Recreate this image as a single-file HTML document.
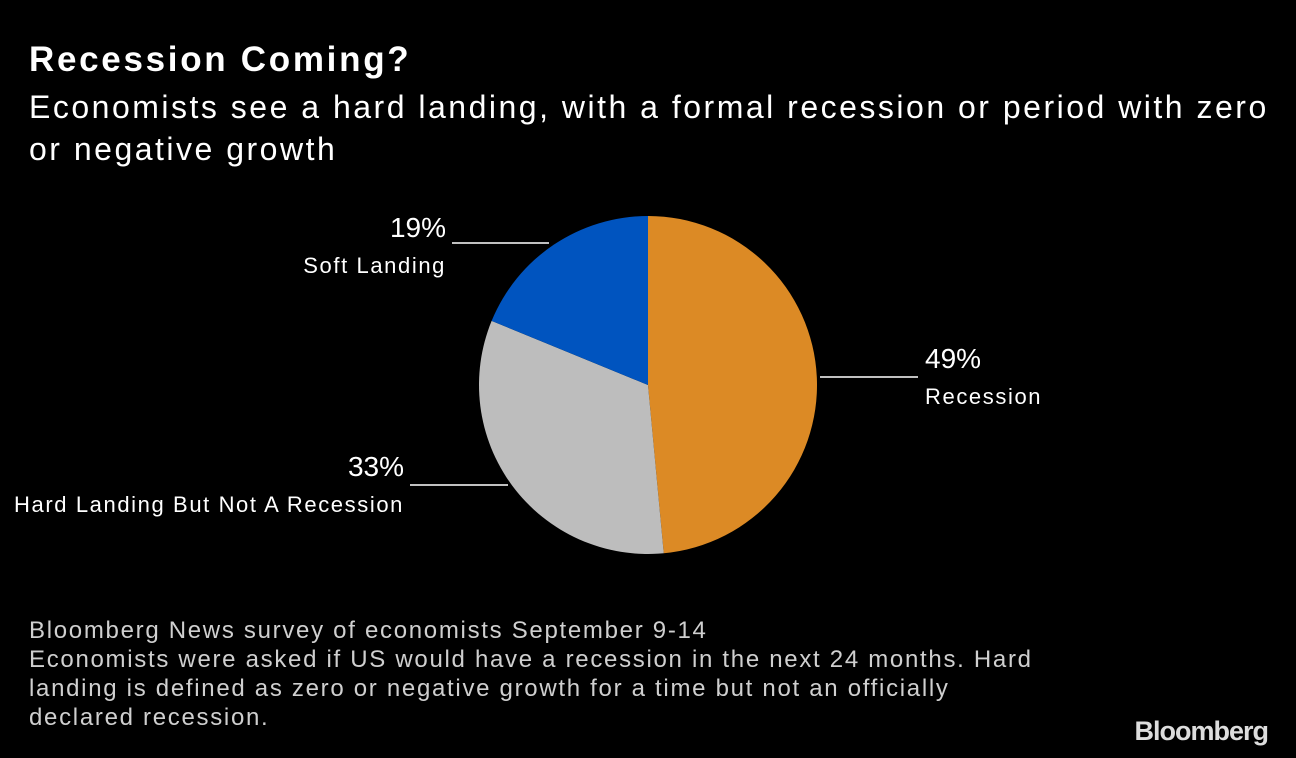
<!DOCTYPE html>
<html><head><meta charset="utf-8"><style>
body{margin:0;background:#000;width:1296px;height:758px;overflow:hidden;font-family:"Liberation Sans","DejaVu Sans",sans-serif;color:#fff}
.t{position:absolute;left:29px;top:40px;font-size:35px;font-weight:bold;letter-spacing:2.7px}
.s{position:absolute;left:29px;top:86px;font-size:32px;line-height:42px;white-space:nowrap;letter-spacing:2.5px}
.f{position:absolute;left:29px;top:616px;font-size:24px;line-height:29px;color:#cfcfcf;white-space:nowrap;letter-spacing:1.7px}
.b{position:absolute;right:28px;top:716px;font-size:27px;font-weight:bold;color:#ddd;letter-spacing:-1px}
</style></head><body>
<div class="t">Recession Coming?</div>
<div class="s">Economists see a hard landing, with a formal recession or period with zero<br>or negative growth</div>
<svg id="pie" width="1296" height="758" style="position:absolute;left:0;top:0"></svg>
<div class="f">Bloomberg News survey of economists September 9-14<br>Economists were asked if US would have a recession in the next 24 months. Hard<br>landing is defined as zero or negative growth for a time but not an officially<br>declared recession.</div>
<div class="b">Bloomberg</div>
<script>
const categories=["Recession","Hard Landing But Not A Recession","Soft Landing"];
const values=[49,33,19];
const colors=["#dc8a25","#bdbdbd","#0054bf"];
const cx=648,cy=385,r=169;
const svg=document.getElementById('pie');
const ns="http://www.w3.org/2000/svg";
const total=values.reduce((a,b)=>a+b,0);
let a0=0;
values.forEach((v,i)=>{
  const a1=a0+v/total*2*Math.PI;
  const x0=cx+r*Math.sin(a0),y0=cy-r*Math.cos(a0),x1=cx+r*Math.sin(a1),y1=cy-r*Math.cos(a1);
  const p=document.createElementNS(ns,'path');
  p.setAttribute('d',`M${cx},${cy}L${x0},${y0}A${r},${r} 0 ${a1-a0>Math.PI?1:0} 1 ${x1},${y1}Z`);
  p.setAttribute('fill',colors[i]);
  
  
  svg.appendChild(p);
  a0=a1;
});
const labels=[
 {lx1:820,lx2:918,ly:377,px:925,py:368,anchor:'start'},
 {lx1:410,lx2:508,ly:485,px:404,py:476,anchor:'end'},
 {lx1:452,lx2:549,ly:243,px:446,py:237,anchor:'end'}];
labels.forEach((L,i)=>{
  const l=document.createElementNS(ns,'line');
  l.setAttribute('x1',L.lx1);l.setAttribute('x2',L.lx2);l.setAttribute('y1',L.ly);l.setAttribute('y2',L.ly);
  l.setAttribute('stroke','#fff');l.setAttribute('stroke-width','1.5');
  
  
  svg.appendChild(l);
  const t=document.createElementNS(ns,'text');
  t.setAttribute('x',L.px);t.setAttribute('y',L.py);t.setAttribute('text-anchor',L.anchor);
  t.setAttribute('fill','#fff');t.setAttribute('font-size','28');
  t.textContent=values[i]+'%';
  
  
  svg.appendChild(t);
  const n=document.createElementNS(ns,'text');
  n.setAttribute('x',L.px);n.setAttribute('y',L.py+36);n.setAttribute('text-anchor',L.anchor);
  n.setAttribute('fill','#fff');n.setAttribute('font-size','22');
  n.setAttribute('letter-spacing','1.6');
  n.textContent=categories[i];
  
  
  svg.appendChild(n);
});
</script>
</body></html>
